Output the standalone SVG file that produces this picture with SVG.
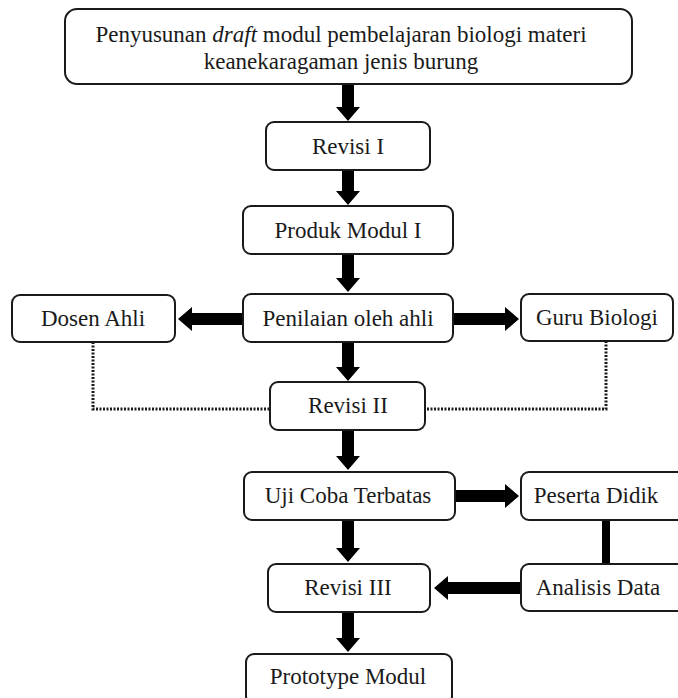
<svg xmlns="http://www.w3.org/2000/svg" width="678" height="698" viewBox="0 0 678 698">
<style>
.box{fill:#fff;stroke:#1a1a1a;stroke-width:2}
.t{font-family:"Liberation Serif","Times New Roman",serif;font-size:23px;fill:#1a1a1a;text-anchor:middle}
.arr{fill:#000}
.dot{fill:none;stroke:#1a1a1a;stroke-width:3;stroke-dasharray:2 1.5}
</style>
<rect width="678" height="698" fill="#fff"/>
<g id="connectors">
<polygon class="arr" points="342,85 354,85 354,107 360,107 348,121 336,107 342,107"/>
<polygon class="arr" points="342,171 354,171 354,191 360,191 348,205 336,191 342,191"/>
<polygon class="arr" points="342,255 354,255 354,278 360,278 348,292 336,278 342,278"/>
<polygon class="arr" points="342,343 354,343 354,367 360,367 348,381 336,367 342,367"/>
<polygon class="arr" points="342,431 354,431 354,456 360,456 348,470 336,456 342,456"/>
<polygon class="arr" points="342,521 354,521 354,548 360,548 348,562 336,548 342,548"/>
<polygon class="arr" points="342,613 354,613 354,638 360,638 348,652 336,638 342,638"/>
<polygon class="arr" points="243,313 243,325 192,325 192,331 178,319 192,307 192,313"/>
<polygon class="arr" points="453,313 453,325 505,325 505,331 519,319 505,307 505,313"/>
<polygon class="arr" points="455,490 455,502 505,502 505,508 519,496 505,484 505,490"/>
<polygon class="arr" points="521,582 521,594 448,594 448,600 434,588 448,576 448,582"/>
<rect class="arr" x="602" y="520" width="8" height="44"/>
<polyline class="dot" points="93,342 93,409 270,409"/>
<polyline class="dot" points="606,341 606,409 425,409"/>
</g>
<g id="n1"><rect class="box" x="65" y="9" width="567" height="75" rx="12"/>
<text class="t" x="341" y="42">Penyusunan <tspan font-style="italic">draft</tspan> modul pembelajaran biologi materi</text>
<text class="t" x="341" y="69">keanekaragaman jenis burung</text></g>
<g id="n2"><rect class="box" x="266" y="122" width="164" height="48" rx="8"/><text class="t" x="348" y="154">Revisi I</text></g>
<g id="n3"><rect class="box" x="243" y="206" width="210" height="48" rx="8"/><text class="t" x="348" y="238">Produk Modul I</text></g>
<g id="n4"><rect class="box" x="243" y="294" width="210" height="48" rx="8"/><text class="t" x="348" y="326">Penilaian oleh ahli</text></g>
<g id="n5"><rect class="box" x="12" y="295" width="163" height="47" rx="8"/><text class="t" x="93" y="326">Dosen Ahli</text></g>
<g id="n6"><rect class="box" x="521" y="294" width="152" height="47" rx="8"/><text class="t" x="597" y="325">Guru Biologi</text></g>
<g id="n7"><rect class="box" x="270" y="382" width="155" height="48" rx="8"/><text class="t" x="348" y="413">Revisi II</text></g>
<g id="n8"><rect class="box" x="244" y="472" width="211" height="48" rx="8"/><text class="t" x="348" y="503">Uji Coba Terbatas</text></g>
<g id="n9"><rect class="box" x="521" y="472" width="165" height="48" rx="8"/><text class="t" x="596" y="503">Peserta Didik</text></g>
<g id="n10"><rect class="box" x="268" y="564" width="162" height="48" rx="8"/><text class="t" x="348" y="595">Revisi III</text></g>
<g id="n11"><rect class="box" x="521" y="564" width="165" height="47" rx="8"/><text class="t" x="598" y="595">Analisis Data</text></g>
<g id="n12"><rect class="box" x="246" y="654" width="206" height="50" rx="8"/><text class="t" x="348" y="684">Prototype Modul</text></g>
</svg>
